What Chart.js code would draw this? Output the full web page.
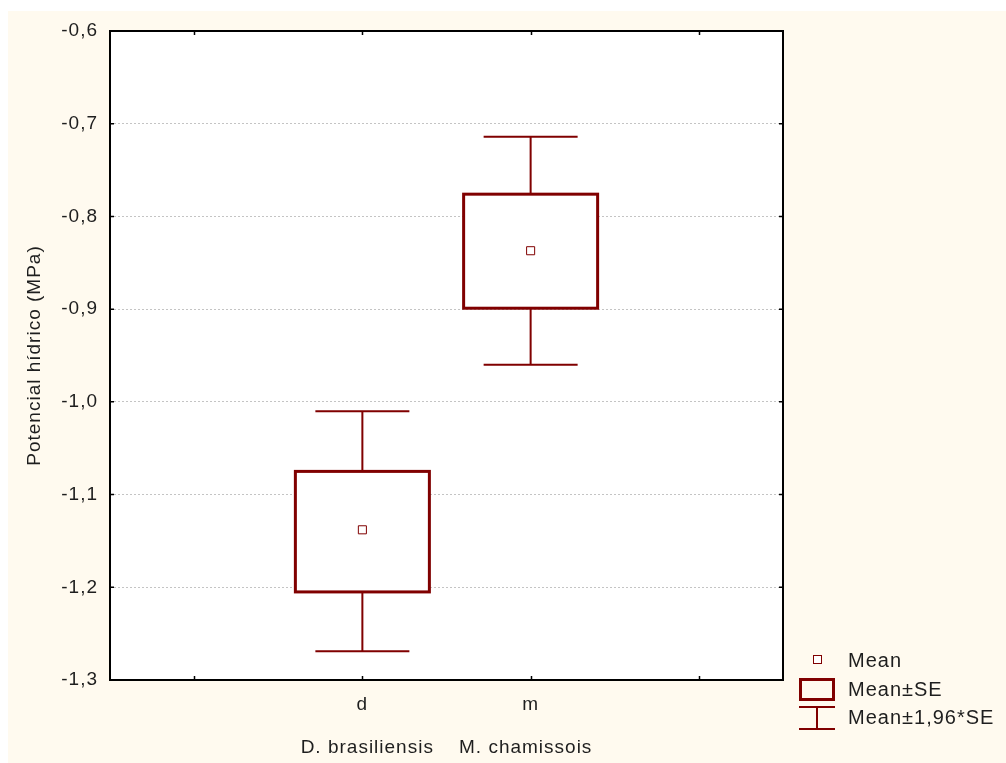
<!DOCTYPE html>
<html>
<head>
<meta charset="utf-8">
<script src="https://cdn.jsdelivr.net/npm/chart.js@4/dist/chart.umd.min.js"></script>
<style>
  html, body { margin:0; padding:0; background:#fff; }
  #wrap { position:relative; width:1006px; height:763px; overflow:hidden; }
  #cream { position:absolute; left:8px; top:11px; right:0; bottom:0; background:#fffaef; }
  #chart { position:absolute; left:0; top:0; }
</style>
</head>
<body>
<div id="wrap">
  <div id="cream"></div>
  <canvas id="chart" width="1006" height="763"></canvas>
</div>
<script>
// values
const groups = ["d", "m"];
const groupNames = ["D. brasiliensis", "M. chamissois"];
const means = [-1.138, -0.837];
const seLow = [-1.205, -0.899];
const seHigh = [-1.075, -0.776];
const ciLow = [-1.269, -0.960];
const ciHigh = [-1.010, -0.714];
const yTicks = [-1.3, -1.2, -1.1, -1.0, -0.9, -0.8, -0.7, -0.6];
const xTicks = [0.5, 1.5, 2.5, 3.5];
const xTickLabels = ["", "d", "m", ""];

const RED = "#800000";
const TXT = "#1e1e1e";
const FONT = "'Liberation Sans', Arial, sans-serif";
const BOX_W = 134, CAP_W = 94;

const fmt = v => v.toFixed(1).replace(".", ",");

// box + whiskers, drawn under the mean markers
const boxPlugin = {
  id: "boxes",
  beforeDraw(chart){
    const {ctx, chartArea:a} = chart;
    ctx.letterSpacing = "1px";
    ctx.save();
    ctx.fillStyle = "#fff";
    ctx.fillRect(a.left, a.top, a.right-a.left, a.bottom-a.top);
    ctx.restore();
  },
  beforeDatasetsDraw(chart){
    const {ctx, scales:{x, y}} = chart;
    ctx.save();
    ctx.strokeStyle = RED;
    for (let i=0;i<groups.length;i++){
      const cx = x.getPixelForValue(i+1.5);
      const yHi = y.getPixelForValue(ciHigh[i]), yLo = y.getPixelForValue(ciLow[i]);
      const bTop = y.getPixelForValue(seHigh[i]), bBot = y.getPixelForValue(seLow[i]);
      ctx.lineWidth = 2;
      ctx.beginPath();
      ctx.moveTo(cx, yHi); ctx.lineTo(cx, bTop);
      ctx.moveTo(cx, bBot); ctx.lineTo(cx, yLo);
      ctx.moveTo(cx-CAP_W/2, yHi); ctx.lineTo(cx+CAP_W/2, yHi);
      ctx.moveTo(cx-CAP_W/2, yLo); ctx.lineTo(cx+CAP_W/2, yLo);
      ctx.stroke();
      ctx.fillStyle = "#fff";
      ctx.fillRect(cx-BOX_W/2, bTop, BOX_W, bBot-bTop);
      ctx.lineWidth = 3;
      ctx.strokeRect(cx-BOX_W/2, bTop, BOX_W, bBot-bTop);
    }
    ctx.restore();
  },
  afterDraw(chart){
    const {ctx, chartArea:a, scales:{x, y}} = chart;
    ctx.save();
    // frame + inward ticks
    ctx.strokeStyle = "#000";
    ctx.lineWidth = 2;
    ctx.strokeRect(a.left, a.top, a.right-a.left, a.bottom-a.top);
    ctx.lineWidth = 1.5;
    ctx.beginPath();
    for (const t of xTicks){
      const px = Math.round(x.getPixelForValue(t))+0.5;
      ctx.moveTo(px, a.bottom); ctx.lineTo(px, a.bottom-4);
      ctx.moveTo(px, a.top); ctx.lineTo(px, a.top+4);
    }
    for (const t of yTicks){
      const py = y.getPixelForValue(t);
      ctx.moveTo(a.left, py); ctx.lineTo(a.left+4, py);
      ctx.moveTo(a.right, py); ctx.lineTo(a.right-4, py);
    }
    ctx.stroke();

    // legend
    const lx = 799, ly = 660;
    ctx.strokeStyle = RED;
    ctx.fillStyle = "#fff";
    ctx.lineWidth = 1;
    ctx.fillRect(lx+14.5, ly-4.5, 8, 8);
    ctx.strokeRect(lx+14.5, ly-4.5, 8, 8);
    ctx.lineWidth = 3;
    ctx.strokeRect(lx+1.5, ly+19.5, 33, 20);
    ctx.lineWidth = 2;
    ctx.beginPath();
    ctx.moveTo(lx, ly+47); ctx.lineTo(lx+36, ly+47);
    ctx.moveTo(lx, ly+69); ctx.lineTo(lx+36, ly+69);
    ctx.moveTo(lx+18, ly+47); ctx.lineTo(lx+18, ly+69);
    ctx.stroke();
    ctx.fillStyle = TXT;
    ctx.font = "20px " + FONT;
    ctx.textBaseline = "middle";
    ctx.textAlign = "left";
    ctx.fillText("Mean", 848, ly+1);
    ctx.fillText("Mean\u00b1SE", 848, ly+30);
    ctx.fillText("Mean\u00b11,96*SE", 848, ly+58);
    ctx.restore();
  }
};

new Chart(document.getElementById("chart"), {
  type: "scatter",
  data: {
    datasets: [{
      label: "Mean",
      data: means.map((m,i)=>({x:i+1.5, y:m})),
      pointStyle: "rect",
      pointRadius: 5.7,
      pointBorderWidth: 1,
      pointBorderColor: RED,
      pointBackgroundColor: "#fff"
    }]
  },
  options: {
    responsive: false,
    animation: false,
    layout: { padding: { left:0, top:31, right:223, bottom:0 } },
    plugins: { legend: { display:false }, tooltip: { enabled:false } },
    scales: {
      x: {
        type: "linear", min: 0, max: 4,
        afterBuildTicks: s => { s.ticks = xTicks.map(v=>({value:v})); },
        afterFit: s => { s.height = 83; },
        ticks: {
          padding: 13, color: TXT, font: { family: FONT, size: 19 },
          callback: (v) => xTickLabels[xTicks.indexOf(v)] ?? ""
        },
        grid: { display:false, drawTicks:false },
        border: { display:false },
        title: {
          display: true, text: groupNames.join("    "), color: TXT,
          font: { family: FONT, size: 19 }, padding: { top:0, bottom:4 }
        }
      },
      y: {
        type: "linear", min: -1.3, max: -0.6,
        afterBuildTicks: s => { s.ticks = yTicks.map(v=>({value:v})); },
        afterFit: s => { s.width = 110; },
        ticks: {
          padding: 12, color: TXT, font: { family: FONT, size: 19 },
          callback: v => fmt(v)
        },
        grid: {
          drawTicks: false,
          color: c => (c.tick && (c.tick.value <= -1.29 || c.tick.value >= -0.61)) ? "rgba(0,0,0,0)" : "#c4c4c4",
          lineWidth: 1
        },
        border: { display:false, dash:[2,2] },
        title: {
          display: true, text: "Potencial h\u00eddrico (MPa)", color: TXT,
          font: { family: FONT, size: 19 }, padding: { top:23, bottom:0 }
        }
      }
    }
  },
  plugins: [boxPlugin]
});
</script>
</body>
</html>
